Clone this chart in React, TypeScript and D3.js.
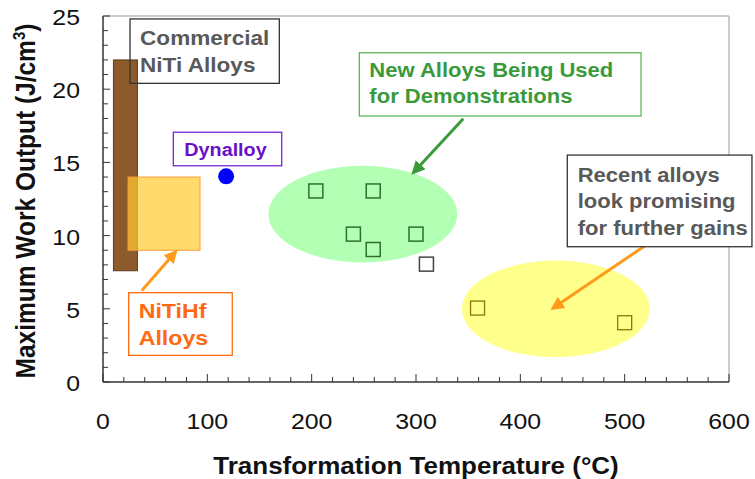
import React from "react";
import * as d3 from "d3";

// ---- data ----
const xTicks = [0, 100, 200, 300, 400, 500, 600];
const yTicks = [0, 5, 10, 15, 20, 25];

// alloy ranges drawn as boxes
const rangeNames = ["Commercial NiTi", "NiTiHf"];
const rangeTempMin = [10, 24];
const rangeTempMax = [33, 93];
const rangeWorkMin = [7.6, 9];
const rangeWorkMax = [22, 14];

const dynalloyTemp = [118];
const dynalloyWork = [14.05];

const demoTemps = [204, 259, 240, 259, 300];
const demoWork = [13.05, 13.05, 10.1, 9.05, 10.1];

const otherTemps = [310];
const otherWork = [8.05];

const recentTemps = [359, 500];
const recentWork = [5.05, 4.05];

// highlighted groups (ellipses)
const groupCenterTemp = [249, 434];
const groupCenterWork = [11.47, 5];
const groupTempRadius = [90.5, 90];
const groupWorkRadius = [3.3, 3.3];

// ---- layout ----
const W = 755;
const H = 479;
const x = d3.scaleLinear().domain([0, 600]).range([103, 729]);
const y = d3.scaleLinear().domain([0, 25]).range([382, 16]);
const SX = 1.13; // the source picture is horizontally stretched
const FONT = "'Liberation Sans', Arial, sans-serif";

type Note = {
  lines: string[];
  x0: number; x1: number; yTop: number; yBot: number;
  stroke: string; color: string; size: number; pad: number; first: number;
};

const notes: Note[] = [
  { lines: ["Commercial", "NiTi Alloys"], x0: 25.9, x1: 169, yTop: 24.8, yBot: 20.4, stroke: "#333", color: "#595959", size: 20, pad: 10, first: 26 },
  { lines: ["Dynalloy"], x0: 67.4, x1: 171.3, yTop: 17.06, yBot: 14.77, stroke: "#7b22d6", color: "#6a0fc8", size: 17.5, pad: 11, first: 23.7 },
  { lines: ["New Alloys Being Used", "for Demonstrations"], x0: 245.7, x1: 515.7, yTop: 22.49, yBot: 18.17, stroke: "#5cb85c", color: "#3a9a3a", size: 19.5, pad: 10, first: 24 },
  { lines: ["Recent alloys", "look promising", "for further gains"], x0: 445, x1: 622, yTop: 15.5, yBot: 9.24, stroke: "#333", color: "#595959", size: 19.5, pad: 10.4, first: 26.7 },
  { lines: ["NiTiHf", "Alloys"], x0: 24.6, x1: 123.9, yTop: 6.1, yBot: 1.82, stroke: "#ff6a13", color: "#ff6a13", size: 20.5, pad: 10, first: 25.6 },
];

const arrows = [
  { from: [37.1, 6.24], to: [69.7, 8.9], color: "#ff9a1a", id: "ahO1" },
  { from: [345.3, 17.98], to: [297.4, 14.3], color: "#3a9a3a", id: "ahG" },
  { from: [519.5, 9.31], to: [431, 5.03], color: "#ff9a1a", id: "ahO2" },
];

const SQ = 14;

export default function App() {
  const xMinor = d3.range(0, 601, 20);
  const yMinor = d3.range(0, 26, 1);
  return (
    <svg width={W} height={H} style={{ position: "absolute", left: 0, top: 0, background: "#fff" }} fontFamily={FONT}>
      <defs>
        {arrows.map((a) => (
          <marker key={a.id} id={a.id} viewBox="0 0 10 10" refX="8" refY="5" markerWidth="4.5" markerHeight="4.5" orient="auto">
            <path d="M0,0 L10,5 L0,10 Z" fill={a.color} />
          </marker>
        ))}
      </defs>

      {/* group ellipses */}
      {groupCenterTemp.map((t, i) => (
        <ellipse
          key={"g" + i}
          cx={x(t)}
          cy={y(groupCenterWork[i])}
          rx={x(groupTempRadius[i]) - x(0)}
          ry={y(0) - y(groupWorkRadius[i])}
          fill={i === 0 ? "#b3ffb3" : "#ffff8c"}
        />
      ))}

      {/* frame top/right */}
      <line x1={x(0)} x2={x(600)} y1={y(25)} y2={y(25)} stroke="#999" strokeWidth={1} />
      <line x1={x(600)} x2={x(600)} y1={y(25)} y2={y(0)} stroke="#999" strokeWidth={1} />

      {/* alloy range boxes */}
      {rangeNames.map((n, i) => (
        <rect
          key={n}
          x={x(rangeTempMin[i])}
          y={y(rangeWorkMax[i])}
          width={x(rangeTempMax[i]) - x(rangeTempMin[i])}
          height={y(rangeWorkMin[i]) - y(rangeWorkMax[i])}
          fill={i === 0 ? "#8c5a2b" : "rgba(255,204,51,0.72)"}
          stroke={i === 0 ? "#5e3c1c" : "#ff9933"}
          strokeWidth={1}
        />
      ))}

      {/* points */}
      {dynalloyTemp.map((t, i) => (
        <circle key={"d" + i} cx={x(t)} cy={y(dynalloyWork[i])} r={8} fill="#0000ff" />
      ))}
      {demoTemps.map((t, i) => (
        <rect key={"s" + i} x={x(t) - SQ / 2} y={y(demoWork[i]) - SQ / 2} width={SQ} height={SQ} fill="none" stroke="#2f6f2f" strokeWidth={1.5} />
      ))}
      {otherTemps.map((t, i) => (
        <rect key={"o" + i} x={x(t) - SQ / 2} y={y(otherWork[i]) - SQ / 2} width={SQ} height={SQ} fill="#fff" stroke="#444" strokeWidth={1.5} />
      ))}
      {recentTemps.map((t, i) => (
        <rect key={"r" + i} x={x(t) - SQ / 2} y={y(recentWork[i]) - SQ / 2} width={SQ} height={SQ} fill="none" stroke="#8a7a00" strokeWidth={1.3} />
      ))}

      {/* axes */}
      <line x1={x(0)} x2={x(600)} y1={y(0)} y2={y(0)} stroke="#333" strokeWidth={1.5} />
      <line x1={x(0)} x2={x(0)} y1={y(0)} y2={y(25)} stroke="#333" strokeWidth={1.5} />
      {xMinor.map((v) => (
        <line key={"xt" + v} x1={x(v)} x2={x(v)} y1={y(0)} y2={y(0) - (v % 100 === 0 ? 8 : 5)} stroke="#333" strokeWidth={1} />
      ))}
      {yMinor.map((v) => (
        <line key={"yt" + v} x1={x(0)} x2={x(0) + (v % 5 === 0 ? 7 : 5)} y1={y(v)} y2={y(v)} stroke="#333" strokeWidth={1} />
      ))}
      {xTicks.map((v) => (
        <text key={"xl" + v} transform={`translate(${x(v)},428.5) scale(${SX},1)`} textAnchor="middle" fontSize={22} fill="#111">
          {v}
        </text>
      ))}
      {yTicks.map((v) => (
        <text key={"yl" + v} transform={`translate(80,${y(v) + 9}) scale(${SX},1)`} textAnchor="end" fontSize={22} fill="#111">
          {v}
        </text>
      ))}
      <text transform={`translate(${(x(0) + x(600)) / 2},473.5) scale(${SX},1)`} textAnchor="middle" fontSize={23} fontWeight="bold" fill="#111">
        Transformation Temperature (°C)
      </text>
      <text transform={`translate(35,${(y(0) + y(25)) / 2 + 2}) scale(${SX},1) rotate(-90)`} textAnchor="middle" fontSize={24.5} fontWeight="bold" fill="#111">
        Maximum Work Output (J/cm
        <tspan dy={-9} fontSize={15}>3</tspan>
        <tspan dy={9}>)</tspan>
      </text>

      {/* arrows */}
      {arrows.map((a) => (
        <line
          key={a.id}
          x1={x(a.from[0])}
          y1={y(a.from[1])}
          x2={x(a.to[0])}
          y2={y(a.to[1])}
          stroke={a.color}
          strokeWidth={3}
          markerEnd={`url(#${a.id})`}
        />
      ))}

      {/* annotation boxes */}
      {notes.map((n, i) => (
        <g key={"n" + i}>
          <rect
            x={x(n.x0)}
            y={y(n.yTop)}
            width={x(n.x1) - x(n.x0)}
            height={y(n.yBot) - y(n.yTop)}
            fill={i === 0 ? "none" : "#fff"}
            stroke={n.stroke}
            strokeWidth={1.3}
          />
          <text transform={`translate(${x(n.x0) + n.pad},${y(n.yTop) + n.first}) scale(${SX},1)`} fontSize={n.size} fontWeight="bold" fill={n.color}>
            {n.lines.map((l, j) => (
              <tspan key={j} x={0} y={j * 26.7}>
                {l}
              </tspan>
            ))}
          </text>
        </g>
      ))}
    </svg>
  );
}
